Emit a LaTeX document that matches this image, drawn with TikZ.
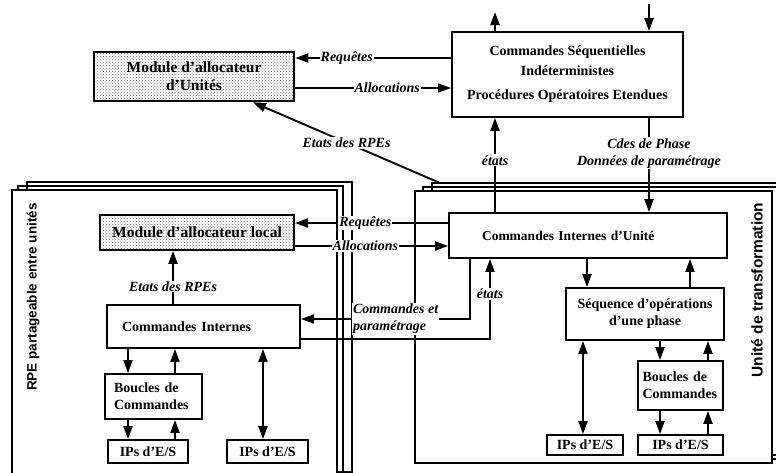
\documentclass[tikz,border=0pt]{standalone}
\usepackage{fontspec}
\setmainfont{Liberation Serif}
\setsansfont{Liberation Sans}
\usepackage{tikz}
\usetikzlibrary{ arrows.meta, calc, patterns, positioning }
\tikzset{
>={Triangle[length=13pt,width=9pt]}, % makes the arrow heads solid
every node/.style={inner sep=1pt},
link/.style={line width=1.9pt}, % sets the width of every connector
sheet/.style={line width=1.7pt}, % the stacked pages behind the boxes
box/.style={draw, line width=1.8pt, fill=white, align=center,
  font=\bfseries\fontsize{14}{17}\selectfont},
unitbox/.style={box, align=left, font=\bfseries\fontsize{13.5}{16}\selectfont},
shaded/.style={box, pattern=crosshatch dots, pattern color=black!55,
  font=\bfseries\fontsize{15.5}{18}\selectfont},
lbl/.style={fill=white, font=\bfseries\itshape\fontsize{14}{17}\selectfont},
side/.style={rotate=90, font=\sffamily\bfseries\fontsize{13.5}{16}\selectfont},
}

\begin{document}
\begin{tikzpicture}[x=1pt,y=-1pt]
  \useasboundingbox (0,0) rectangle (776,472);

  % stacks of pages, back to front
  \foreach \dx/\dy in {15/-8, 6/-4}
    \draw[sheet] (12+\dx,190+\dy) rectangle (337+\dx,480+\dy);
  \draw[sheet,fill=white] (12,190) rectangle (337,480);
  \foreach \dx/\dy in {17/-8, 8/-4}
    \draw[sheet] (415+\dx,191+\dy) rectangle (772+\dx,463+\dy);
  \draw[sheet,fill=white] (415,191) rectangle (772,463);
  \coordinate (unit) at (440,183);
  \coordinate (up) at (495,12);
  \coordinate (down) at (649,4);

  \node[side] (rpetitle) at (33,297) {RPE partageable entre unités};
  \node[side, font=\sffamily\bfseries\fontsize{15.5}{18}\selectfont] (unittitle) at (757,290) {Unité de transformation};

  \node[shaded, line width=2.6pt, minimum width=200pt, minimum height=49pt] (unitalloc) at (194,76.5) {Module d'allocateur\\d'Unités};
  \node[box, minimum width=231pt, minimum height=85pt] (seqcmd) at (567.5,74.5)
    {Commandes Séquentielles\\[3pt]Indéterministes\\[7pt]Procédures Opératoires Etendues};
  \node[shaded, minimum width=194pt, minimum height=35pt] (localloc) at (197,232.5) {Module d'allocateur local};
  \node[unitbox, text width=212pt, inner xsep=33pt, minimum height=45pt] (unitcmd) at (588,235.5) {Commandes Internes d'Unité};
  \node[box, align=left, text width=163pt, inner xsep=15pt, minimum height=43pt] (intcmd) at (203.5,326.5) {Commandes Internes};
  \node[box, minimum width=158pt, minimum height=52pt] (phase) at (645,314) {Séquence d'opérations\\d'une phase};
  \node[box, align=left, text width=79pt, inner xsep=9pt, minimum height=45pt] (loopL) at (153.5,396.5) {Boucles de\\Commandes};
  \node[box, align=left, text width=76pt, inner xsep=4.5pt, minimum height=49pt] (loopR) at (680.5,385.5) {Boucles de\\Commandes};
  \node[box, minimum width=80pt, minimum height=23pt] (io1) at (148,451.5) {IPs d'E/S};
  \node[box, minimum width=81pt, minimum height=23pt] (io2) at (267.5,451.5) {IPs d'E/S};
  \node[box, minimum width=76pt, minimum height=20pt] (io3) at (585,445) {IPs d'E/S};
  \node[box, minimum width=85pt, minimum height=20pt] (io4) at (680.5,445) {IPs d'E/S};

  % upper level
  \draw[link,->] (seqcmd.west |- 0,58) -- node[lbl,pos=.67]{Requêtes} (unitalloc.east |- 0,58);
  \draw[link,->] (unitalloc.east |- 0,88) -- node[lbl,pos=.59]{Allocations} (seqcmd.west |- 0,88);
  \draw[link,->] (unit) -- node[lbl]{Etats des RPEs} (unitalloc.south -| 253,0);
  \draw[link,->] (unitcmd.north -| 495,0) -- node[lbl,pos=.55]{états} (seqcmd.south -| 495,0);
  \draw[link,->] (seqcmd.south -| 649,0) -- node[lbl,pos=.375,align=center]{Cdes de Phase\\Données de paramétrage} (unitcmd.north -| 649,0);
  \draw[link,->] (seqcmd.north -| 495,0) -- (up);
  \draw[link,->] (down) -- (seqcmd.north -| 649,0);

  % between the unit and the shared RPE
  \draw[link,->] (unitcmd.west |- 0,223) -- node[lbl,pos=.54]{Requêtes} (localloc.east |- 0,223);
  \draw[link,->] (localloc.east |- 0,246) -- node[lbl,pos=.46]{Allocations} (unitcmd.west |- 0,246);
  \draw[link,->] (intcmd.north -| 173,0) -- node[lbl,pos=.33]{Etats des RPEs} (localloc.south -| 173,0);
  \draw[link,->] (unitcmd.south -| 470,0) |- node[lbl,pos=.72,align=left]{Commandes et\\paramétrage} (intcmd.east |- 0,319);
  \draw[link,->] (intcmd.east |- 0,339) -| node[lbl,pos=.78]{états} (unitcmd.south -| 490,0);

  % command loops down to the I/O
  \foreach \a/\b/\x/\y in {intcmd/loopL/128/175, loopL/io1/128/175, unitcmd/phase/587/690, phase/loopR/660/708, loopR/io4/660/708} {
    \draw[link,->] (\a.south -| \x,0) -- (\b.north -| \x,0);
    \draw[link,->] (\b.north -| \y,0) -- (\a.south -| \y,0);
  }
  \draw[link,<->] (intcmd.south -| 263,0) -- (io2.north -| 263,0);
  \draw[link,<->] (phase.south -| 583,0) -- (io3.north -| 583,0);
\end{tikzpicture}
\end{document}
